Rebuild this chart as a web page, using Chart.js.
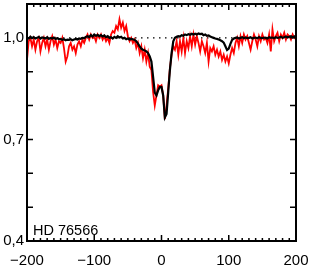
<!DOCTYPE html>
<html>
<head>
<meta charset="utf-8">
<script src="https://cdn.jsdelivr.net/npm/chart.js@4"></script>
<style>
  body { margin: 0; background: #fff; }
  #wrap { width: 311px; height: 273px; }
</style>
</head>
<body>
<div id="wrap"><canvas id="myChart"></canvas></div>
<script>
// velocity grid (km/s)
var velocity = [
  -200, -197.5, -195, -192.5, -190, -187.5, -185, -182.5, -180, -177.5,
  -175, -172.5, -170, -167.5, -165, -162.5, -160, -157.5, -155, -152.5,
  -150, -147.5, -145, -142.5, -140, -137.5, -135, -132.5, -130, -127.5,
  -125, -122.5, -120, -117.5, -115, -112.5, -110, -107.5, -105, -102.5,
  -100, -97.5, -95, -92.5, -90, -87.5, -85, -82.5, -80, -77.5,
  -75, -72.5, -70, -67.5, -65, -62.5, -60, -57.5, -55, -52.5,
  -50, -47.5, -45, -42.5, -40, -37.5, -35, -32.5, -30, -27.5,
  -25, -22.5, -20, -17.5, -15, -12.5, -10, -7.5, -5, -2.5,
  0, 2.5, 5, 7.5, 10, 12.5, 15, 17.5, 20, 22.5,
  25, 27.5, 30, 32.5, 35, 37.5, 40, 42.5, 45, 47.5,
  50, 52.5, 55, 57.5, 60, 62.5, 65, 67.5, 70, 72.5,
  75, 77.5, 80, 82.5, 85, 87.5, 90, 92.5, 95, 97.5,
  100, 102.5, 105, 107.5, 110, 112.5, 115, 117.5, 120, 122.5,
  125, 127.5, 130, 132.5, 135, 137.5, 140, 142.5, 145, 147.5,
  150, 152.5, 155, 157.5, 160, 162.5, 165, 167.5, 170, 172.5,
  175, 177.5, 180, 182.5, 185, 187.5, 190, 192.5, 195, 197.5,
  200
];

// red spectrum
var redFlux = [
  0.935, 0.99, 1.00, 0.975, 0.995, 0.965, 0.99, 1.00, 0.96, 0.985,
  1.0, 0.975, 0.995, 0.965, 0.99, 1.005, 0.98, 0.995, 0.97, 0.99,
  0.985, 1.0, 0.97, 0.93, 0.945, 0.975, 0.985, 0.965, 0.975, 0.955,
  0.98, 0.99, 0.975, 0.995, 0.985, 1.0, 1.01, 0.995, 1.01, 1.0,
  1.005, 0.99, 1.01, 1.0, 1.01, 0.995, 1.005, 0.99, 1.0, 0.985,
  1.01, 1.02, 1.015, 1.035, 1.025, 1.055, 1.03, 1.045, 1.02, 1.035,
  1.005, 0.99, 1.0, 0.985, 0.995, 0.97, 0.985, 0.955, 0.975, 0.94,
  0.965, 0.93, 0.955, 0.915, 0.905, 0.84, 0.80, 0.83, 0.86, 0.855,
  0.86, 0.83, 0.76, 0.80, 0.85, 0.91, 0.95, 0.975, 0.965, 0.99,
  0.95, 0.99, 0.96, 1.0, 0.955, 0.99, 0.97, 1.005, 0.975, 1.01,
  0.98, 1.005, 0.985, 0.96, 0.99, 0.975, 0.955, 0.985, 0.93, 0.97,
  0.96, 0.975, 0.95, 0.965, 0.945, 0.96, 0.935, 0.95, 0.93, 0.945,
  0.925, 0.95, 0.97, 0.955, 0.985, 1.0, 0.975, 1.005, 0.985, 1.01,
  0.995, 1.005, 0.985, 0.965, 0.99, 1.01, 0.995, 0.975, 1.005, 0.99,
  1.01, 0.995, 1.0, 0.985, 1.01, 0.96, 1.025, 0.99, 1.005, 1.015,
  0.99, 1.01, 1.0, 1.015, 0.995, 1.01, 1.005, 0.995, 1.01, 1.0,
  1.005
];

// black spectrum
var blackFlux = [
  1.0, 0.998, 1.003, 0.999, 1.002, 0.998, 1.0, 1.003, 0.998, 1.001,
  1.0, 0.998, 1.002, 0.997, 1.0, 0.998, 1.001, 0.997, 0.999, 0.996,
  0.997, 0.994, 0.996, 0.993, 0.995, 0.994, 0.996, 0.993, 0.995, 0.997,
  0.995, 0.998, 0.997, 1.0, 0.999, 1.003, 1.005, 1.002, 1.008, 1.004,
  1.01, 1.006, 1.009, 1.005, 1.008, 1.004, 1.007, 1.002, 1.005, 1.0,
  1.002, 0.998, 1.003, 1.0, 1.005, 1.001, 1.003, 0.998, 1.0, 0.996,
  0.998, 0.995, 0.997, 0.996, 0.994, 0.99, 0.983, 0.975, 0.968, 0.965,
  0.963, 0.96, 0.955, 0.945, 0.93, 0.885, 0.838, 0.83, 0.845, 0.855,
  0.855, 0.83, 0.765, 0.775, 0.84, 0.905, 0.955, 0.99, 1.0, 1.003,
  1.005, 1.004, 1.008, 1.006, 1.01, 1.008, 1.011, 1.009, 1.012, 1.01,
  1.012, 1.01, 1.013, 1.011, 1.012, 1.008, 1.01, 1.006, 1.007, 1.004,
  1.002, 1.0, 0.998, 0.997, 0.995, 0.993, 0.99, 0.986, 0.975, 0.964,
  0.968, 0.982, 0.994, 0.998, 1.0, 1.001, 0.998, 1.0, 1.002, 0.999,
  1.001, 0.999, 1.0, 1.002, 0.998, 1.0, 1.001, 0.999, 1.002, 1.0,
  0.999, 1.001, 1.0, 0.998, 1.002, 1.0, 1.001, 0.999, 1.002, 1.0,
  1.001, 1.003, 1.0, 1.002, 1.004, 1.001, 1.003, 1.005, 1.002, 1.004,
  1.006
];

var continuumX = [-200, 200];
var continuumY = [1.0, 1.0];
var yLabelValues = [1.0, 0.7, 0.4];
var starName = "HD 76566";

function toPoints(xs, ys) {
  return xs.map(function (x, i) {
    return { x: x, y: ys[i] };
  });
}

// frame, inward ticks and star name
var framePlugin = {
  id: "frame",
  afterDatasetsDraw: function (chart) {
    var ctx = chart.ctx;
    var a = chart.chartArea;
    var xs = chart.scales.x;
    var ys = chart.scales.y;
    ctx.save();
    ctx.strokeStyle = "#000";
    ctx.lineWidth = 1.5;
    ctx.beginPath();
    for (var v = -200; v <= 200; v += 10) {
      var px = xs.getPixelForValue(v);
      var len = v % 100 === 0 ? 6 : 3;
      ctx.moveTo(px, a.bottom);
      ctx.lineTo(px, a.bottom - len);
      ctx.moveTo(px, a.top);
      ctx.lineTo(px, a.top + len);
    }
    for (var k = 4; k <= 11; k++) {
      var py = ys.getPixelForValue(k / 10);
      ctx.moveTo(a.left, py);
      ctx.lineTo(a.left + 6, py);
      ctx.moveTo(a.right, py);
      ctx.lineTo(a.right - 6, py);
    }
    ctx.stroke();
    ctx.lineWidth = 2;
    ctx.strokeRect(a.left, a.top, a.right - a.left, a.bottom - a.top);
    ctx.fillStyle = "#000";
    ctx.font = "14.5px 'Liberation Sans', Arial, sans-serif";
    ctx.textBaseline = "alphabetic";
    ctx.fillText(starName, a.left + 6, a.bottom - 6);
    ctx.restore();
  },
};

new Chart("myChart", {
  type: "line",
  data: {
    datasets: [
      {
        data: toPoints(velocity, blackFlux),
        borderColor: "#000000",
        borderWidth: 2.2,
        pointRadius: 0,
        tension: 0,
        order: 1,
      },
      {
        data: toPoints(velocity, redFlux),
        borderColor: "#ff0000",
        borderWidth: 1.8,
        pointRadius: 0,
        tension: 0,
        order: 2,
      },
      {
        data: toPoints(continuumX, continuumY),
        borderColor: "#000000",
        borderWidth: 1.3,
        borderDash: [1.5, 4.5],
        pointRadius: 0,
        order: 3,
      },
    ],
  },
  options: {
    responsive: true,
    maintainAspectRatio: false,
    animation: false,
    layout: { padding: { top: 4, right: 15, left: 0, bottom: 0 } },
    plugins: {
      legend: { display: false },
      tooltip: { enabled: false },
    },
    scales: {
      x: {
        type: "linear",
        min: -200,
        max: 200,
        grid: { display: false, drawTicks: false, tickLength: 0 },
        border: { display: false },
        afterFit: function (scale) {
          scale.height = 32;
          scale.paddingLeft = 0;
          scale.paddingRight = 0;
        },
        ticks: {
          stepSize: 100,
          padding: 11,
          color: "#000",
          font: { family: "'Liberation Sans', Arial, sans-serif", size: 15 },
          callback: function (value) {
            return value < 0 ? "\u2212" + Math.abs(value) : String(value);
          },
        },
      },
      y: {
        min: 0.4,
        max: 1.1,
        grid: { display: false, drawTicks: false, tickLength: 0 },
        border: { display: false },
        afterFit: function (scale) {
          scale.width = 27;
          scale.paddingTop = 0;
          scale.paddingBottom = 0;
        },
        ticks: {
          stepSize: 0.1,
          autoSkip: false,
          padding: 3,
          color: "#000",
          font: { family: "'Liberation Sans', Arial, sans-serif", size: 15 },
          callback: function (value) {
            var r = Math.round(value * 10) / 10;
            if (yLabelValues.indexOf(r) >= 0) {
              return r.toFixed(1).replace(".", ",");
            }
            return "";
          },
        },
      },
    },
  },
  plugins: [framePlugin],
});
</script>
</body>
</html>
